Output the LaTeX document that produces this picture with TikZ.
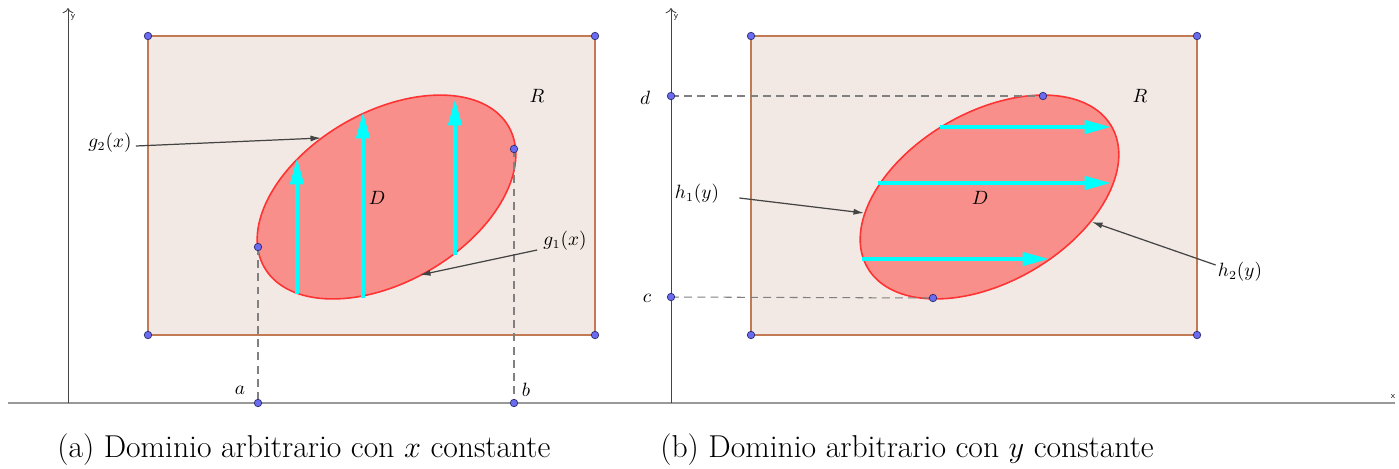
\documentclass[tikz,border=0pt]{standalone}
\usetikzlibrary{arrows.meta}
\definecolor{rectfill}{HTML}{F2E9E4}
\definecolor{rectline}{HTML}{C27A55}
\definecolor{ellfill}{HTML}{F88F8A}
\definecolor{elline}{HTML}{FF3333}
\definecolor{dotfill}{HTML}{6B6BF0}
\definecolor{dotline}{HTML}{2A2A70}
\definecolor{axcol}{HTML}{444444}
\definecolor{annot}{HTML}{444444}
\definecolor{flowcol}{HTML}{00FFFF}
\begin{document}
\begin{tikzpicture}[x=0.02cm,y=-0.02cm,
  rectbox/.style={draw=rectline,fill=rectfill,line width=1.1pt},
  region/.style={draw=elline,fill=ellfill,line width=0.9pt},
  dot/.style={circle,fill=dotfill,draw=dotline,line width=0.4pt,inner sep=0pt,minimum size=0.15cm},
  flow/.style={flowcol,line width=2.3pt,-{Triangle[width=7.5pt,length=15pt]}},
  pointer/.style={annot,line width=0.7pt,-{Latex[length=6pt,width=3.5pt]}},
  dashline/.style={draw=gray,line width=0.6pt,dash pattern=on 4.5pt off 3pt},
  lbl/.style={font=\fontsize{10.5}{12}\selectfont,inner sep=0pt},
  axlbl/.style={font=\fontsize{5}{6}\selectfont\sffamily,inner sep=0pt},
  captext/.style={font=\fontsize{18}{21}\selectfont,inner sep=0pt,anchor=west}
]
\useasboundingbox (0,0) rectangle (1399,468);

% ---------- axes ----------
\coordinate (xl) at (8,403);
\coordinate (xr) at (1395,403);
\draw[gray!80,line width=0.8pt] (xl) -- (xr);
\node[axlbl] (xlab) at (1393,397) {x};

\coordinate (yaB) at (68,403);
\coordinate (yaT) at (68,8);
\draw[axcol,line width=0.5pt,-{To[length=3pt]}] (yaB) -- (yaT);
\node[axlbl] (yalab) at (73,17) {y};

\coordinate (ybB) at (671,403);
\coordinate (ybT) at (671,8);
\draw[axcol,line width=0.5pt,-{To[length=3pt]}] (ybB) -- (ybT);
\node[axlbl] (yblab) at (676,17) {y};

% ---------- left panel ----------
\draw[rectbox] (148,36) rectangle (595,335);
\draw[region] (386.5,197) ellipse [x radius=141, y radius=85, rotate=30];

\coordinate (pa) at (258,247);
\coordinate (pb) at (514,149);
\coordinate (xa) at (258,403);
\coordinate (xb) at (514,403);
\draw[dashline] (pa) -- (xa);
\draw[dashline] (pb) -- (xb);

\coordinate (f1s) at (297,294); \coordinate (f1e) at (297,158);
\coordinate (f2s) at (363,298); \coordinate (f2e) at (363,112);
\coordinate (f3s) at (455,255); \coordinate (f3e) at (455,99);
\draw[flow] (f1s) -- (f1e);
\draw[flow] (f2s) -- (f2e);
\draw[flow] (f3s) -- (f3e);

\node[lbl] (Dl) at (377,198) {$D$};
\node[lbl] (Rl) at (537,96) {$R$};
\node[lbl] (al) at (240,390) {$a$};
\node[lbl] (bl) at (526,390) {$b$};

\node[lbl] (g2) at (110,143) {$g_2(x)$};
\coordinate (g2t) at (321,138);
\draw[pointer] ([shift={(4,3)}]g2.east) -- (g2t);
\node[lbl] (g1) at (565,241) {$g_1(x)$};
\coordinate (g1t) at (420,275);
\draw[pointer] ([shift={(-6,9)}]g1.west) -- (g1t);

\foreach \p in {(148,36),(595,36),(148,335),(595,335)} \node[dot] at \p {};
\node[dot] (dpa) at (pa) {};
\node[dot] (dpb) at (pb) {};
\node[dot] (dxa) at (xa) {};
\node[dot] (dxb) at (xb) {};

% ---------- right panel ----------
\draw[rectbox] (751,36) rectangle (1197,335);
\draw[region] (989.5,197) ellipse [x radius=141, y radius=85, rotate=30];

\coordinate (yd) at (671,96);
\coordinate (yc) at (671,297);
\coordinate (pd) at (1043,96);
\coordinate (pc) at (933,298);
\draw[dashline] (yd) -- (pd);
\draw[dashline] (yc) -- (pc);

\coordinate (h1s) at (940,127); \coordinate (h1e) at (1111,127);
\coordinate (h2s) at (878,183); \coordinate (h2e) at (1111,183);
\coordinate (h3s) at (862,259); \coordinate (h3e) at (1049,259);
\draw[flow] (h1s) -- (h1e);
\draw[flow] (h2s) -- (h2e);
\draw[flow] (h3s) -- (h3e);

\node[lbl] (Dr) at (980,198) {$D$};
\node[lbl] (Rr) at (1140,96) {$R$};
\node[lbl] (dl) at (645,98) {$d$};
\node[lbl] (cl) at (647,298) {$c$};

\node[lbl] (h1) at (697,194) {$h_1(y)$};
\coordinate (h1t) at (864,213);
\draw[pointer] ([shift={(20,4)}]h1.east) -- (h1t);
\node[lbl] (h2) at (1240,272) {$h_2(y)$};
\coordinate (h2t) at (1092,222);
\draw[pointer] ([shift={(-2,-7)}]h2.west) -- (h2t);

\foreach \p in {(751,36),(1197,36),(751,335),(1197,335)} \node[dot] at \p {};
\node[dot] (dyd) at (yd) {};
\node[dot] (dyc) at (yc) {};
\node[dot] (dpd) at (pd) {};
\node[dot] (dpc) at (pc) {};

% ---------- captions ----------
\node[captext] (capa) at (57,450) {(a) Dominio arbitrario con $x$ constante};
\node[captext] (capb) at (660,450) {(b) Dominio arbitrario con $y$ constante};
\end{tikzpicture}
\end{document}
